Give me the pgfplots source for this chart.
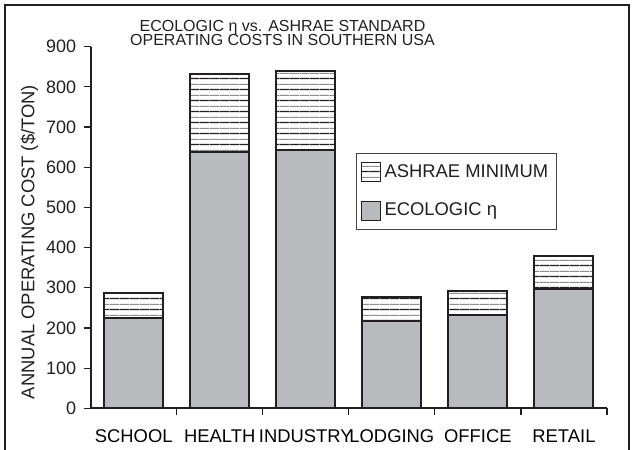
\documentclass[border=0pt]{standalone}
\usepackage{fontspec}
\setmainfont{Liberation Sans}
\usepackage{pgfplots}
\pgfplotsset{compat=1.18}
\usetikzlibrary{patterns}
\definecolor{ink}{HTML}{231F20}
\definecolor{barg}{HTML}{B9BABE}
\definecolor{hgray}{HTML}{8E8E90}
\newcommand\f{\fontsize{8}{9}\selectfont}
\newcommand\fl{\fontsize{9.2}{10.5}\selectfont}
\newcommand\fy{\fontsize{9}{10.5}\selectfont}
\pgfdeclarepatterninherentlycolored{ashrae}{\pgfpointorigin}{\pgfqpoint{5pt}{5.3pt}}{\pgfqpoint{5pt}{5.3pt}}{%
 \pgfsetfillcolor{white}\pgfpathrectangle{\pgfpointorigin}{\pgfqpoint{5pt}{5.3pt}}\pgfusepath{fill}%
 \pgfsetlinewidth{0.6pt}%
 \pgfsetstrokecolor{ink}\pgfpathmoveto{\pgfqpoint{0pt}{1.3pt}}\pgfpathlineto{\pgfqpoint{5pt}{1.3pt}}\pgfusepath{stroke}%
 \pgfsetstrokecolor{hgray}\pgfpathmoveto{\pgfqpoint{0pt}{3.95pt}}\pgfpathlineto{\pgfqpoint{5pt}{3.95pt}}\pgfusepath{stroke}%
}
\pgfplotstableread{
x eco ashrae
0 224 62
1 637 195
2 642 198
3 217 59
4 231 62
5 296 83
}\data
\begin{document}
\begin{tikzpicture}
\path[use as bounding box] (0,0) rectangle (316.5pt,225pt);
\draw[ink, line width=1pt] (2.5pt,-1pt) -- (2.5pt,222.5pt) -- (314.5pt,222.5pt) -- (314.5pt,-1pt);
\begin{axis}[
  at={(45.35pt,20.85pt)}, anchor=south west,
  scale only axis, width=258.15pt, height=180.8pt,
  xmin=-0.5, xmax=5.5, ymin=0, ymax=900,
  axis lines*=left,
  axis line style={ink, line width=1pt, -},
  ybar stacked, bar width=29.5pt,
  ytick={0,100,...,900},
  tick align=outside, major tick length=3.5pt,
  tick style={ink, line width=0.6pt},
  xtick={0.5,1.5,2.5,3.5,4.5,5.5}, xticklabels={},
  extra x ticks={0,1,2,3,4,5},
  extra x tick labels={SCHOOL,HEALTH,INDUSTRY,LODGING,OFFICE,RETAIL},
  extra x tick style={major tick length=0pt, xticklabel style={anchor=base, yshift=-17.3pt, font=\fl}},
  yticklabel style={font=\fy, text=ink, xshift=-0.3pt},
  /pgf/number format/assume math mode=true,
  legend image code/.code={\draw[#1, line width=0.5pt] (0pt,-4.75pt) rectangle (9.5pt,4.75pt);},
  reverse legend,
  legend cell align=left,
  legend style={at={(0.514,0.706)}, anchor=north west, draw=ink!85, line width=0.5pt,
    font=\fl, row sep=7.3pt, inner xsep=2pt, inner ysep=3.5pt, text=ink,
    /tikz/every even column/.append style={column sep=0pt}},
]
\addplot[fill=barg, draw=ink, line width=1pt] table[x=x, y=eco] {\data};
\addlegendentry{ECOLOGIC η}
\addplot[pattern=ashrae, draw=ink, line width=1pt] table[x=x, y=ashrae] {\data};
\addlegendentry{ASHRAE MINIMUM}
\end{axis}
\node[anchor=base, font=\f, text=ink] at (141.25pt,209.15pt) {ECOLOGIC η vs. ASHRAE STANDARD};
\node[anchor=base, font=\f, text=ink] at (141.25pt,202pt) {OPERATING COSTS IN SOUTHERN USA};
\node[rotate=90, font=\fl, text=ink] at (14.7pt,104pt) {ANNUAL OPERATING COST (\$/TON)};
\end{tikzpicture}
\end{document}
